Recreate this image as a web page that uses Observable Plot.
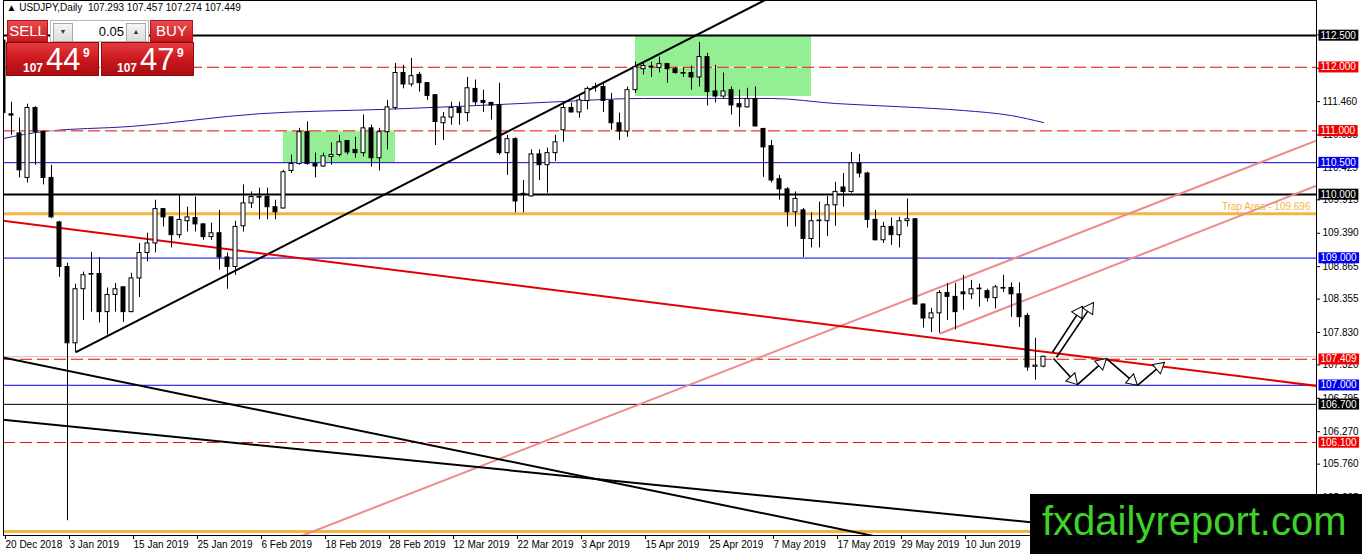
<!DOCTYPE html>
<html>
<head>
<meta charset="utf-8">
<script src="https://cdn.jsdelivr.net/npm/d3@7"></script>
<script src="https://cdn.jsdelivr.net/npm/@observablehq/plot@0.6"></script>
<style>
html,body{margin:0;padding:0;background:#fff;}
#wrap{position:relative;width:1362px;height:554px;overflow:hidden;font-family:"Liberation Sans",Arial,sans-serif;}
#chart svg{display:block;}
.ov{position:absolute;box-sizing:border-box;}
.hdr{background:linear-gradient(#ea4b4e,#cc1a20);color:#fff;font-size:15px;text-align:center;line-height:20px;border:1px solid #b0141a;}
.price{background:linear-gradient(#e63a3e,#c8161c 55%,#ad0d13);border:1px solid #8e0a0f;color:#fff;}
.price span{position:absolute;white-space:nowrap;}
.spin{background:#fff;border:1px solid #b8b8b8;}
.btn{position:absolute;background:linear-gradient(#f4f4f4,#dcdcdc);border:1px solid #a8a8a8;font-size:7px;color:#333;text-align:center;line-height:16px;}
</style>
</head>
<body>
<div id="wrap">
  <div id="chart"></div>
  <div class="ov hdr" style="left:7px;top:20px;width:41px;height:22px;">SELL</div>
  <div class="ov spin" style="left:50px;top:20px;width:99px;height:22px;">
    <div class="btn" style="left:2px;top:2px;width:18px;height:17px;">▼</div>
    <div style="position:absolute;right:24px;top:2px;font-size:13px;line-height:17px;color:#000;">0.05</div>
    <div class="btn" style="right:2px;top:2px;width:18px;height:17px;">▲</div>
  </div>
  <div class="ov hdr" style="left:150px;top:20px;width:43px;height:22px;">BUY</div>
  <div class="ov price" style="left:6px;top:42px;width:93px;height:34px;">
    <span style="left:16px;top:18px;font-size:12px;font-weight:bold;">107</span>
    <span style="left:39px;top:-1px;font-size:31px;">44</span>
    <span style="left:76px;top:3px;font-size:12px;font-weight:bold;">9</span>
  </div>
  <div class="ov price" style="left:101px;top:42px;width:93px;height:34px;">
    <span style="left:15px;top:18px;font-size:12px;font-weight:bold;">107</span>
    <span style="left:38px;top:-1px;font-size:31px;">47</span>
    <span style="left:75px;top:3px;font-size:12px;font-weight:bold;">9</span>
  </div>
  <div class="ov" style="left:1030px;top:494px;width:332px;height:60px;background:#000;">
    <span style="position:absolute;left:12px;top:7px;font-size:40px;line-height:40px;color:#3ed22a;white-space:nowrap;">fxdailyreport.com</span>
  </div>
</div>
<script>
// ---- candles (bar index 0 = 20 Dec 2018, daily bars) ----
const open = [112.42,111.26,110.96,110.26,111.36,110.98,110.26,109.56,108.86,107.66,108.51,108.74,108.75,108.15,108.42,108.54,108.15,108.68,109.08,109.23,109.77,109.64,109.36,109.58,109.63,109.53,109.33,109.39,109.01,108.86,109.50,109.86,109.95,109.96,109.80,109.78,110.37,110.48,110.98,110.48,110.44,110.59,110.62,110.84,110.70,110.65,111.04,110.57,110.98,111.36,111.91,111.73,111.88,111.75,111.56,111.12,111.21,111.36,111.28,111.66,111.47,111.44,111.40,110.65,110.87,110.01,109.97,110.63,110.46,110.65,111.01,111.36,111.29,111.47,111.68,111.69,111.47,111.12,110.99,111.64,111.97,112.00,111.99,112.05,111.97,111.91,111.91,111.84,112.16,111.62,111.54,111.64,111.42,111.37,111.50,111.03,110.76,110.24,110.08,109.72,109.75,109.30,109.58,109.58,109.83,110.11,110.04,110.49,110.33,109.60,109.28,109.49,109.36,109.58,109.61,108.27,108.05,108.13,108.45,108.39,108.46,108.43,108.51,108.48,108.37,108.52,108.53,108.43,108.09,107.29,107.293];
const high = [112.57,111.45,111.20,111.42,111.38,111.00,110.46,109.58,108.92,108.59,108.78,109.09,109.01,108.53,108.60,108.55,108.76,109.23,109.39,109.91,109.78,109.65,109.99,109.80,109.96,109.54,109.55,109.75,109.08,109.58,110.15,110.04,110.10,110.10,109.91,110.38,110.62,111.04,111.14,110.65,110.65,110.81,110.93,110.85,110.90,111.25,111.09,111.04,111.48,112.06,112.03,112.14,111.92,111.76,111.57,111.29,111.45,111.45,111.84,111.80,111.64,111.45,111.75,110.93,110.89,110.22,110.70,110.70,110.73,110.93,111.44,111.44,111.56,111.69,111.75,111.75,111.59,111.28,111.69,112.08,112.08,112.08,112.16,112.06,112.00,111.99,112.02,112.39,112.22,112.03,111.91,111.69,111.64,111.67,111.69,111.04,110.85,110.30,110.11,110.04,109.78,109.71,109.88,109.97,110.19,110.33,110.66,110.63,110.35,109.75,109.56,109.63,109.64,109.93,109.62,108.28,108.21,108.49,108.60,108.60,108.73,108.65,108.59,108.51,108.57,108.73,108.61,108.61,108.13,107.74,107.457];
const low = [111.12,110.93,110.26,110.18,110.46,110.15,109.62,108.70,104.87,107.52,108.02,108.15,107.98,107.79,108.15,107.99,108.14,108.38,108.94,109.08,109.49,109.16,109.31,109.41,109.41,109.28,109.28,108.81,108.51,108.73,109.41,109.78,109.60,109.60,109.60,109.77,110.33,110.46,110.46,110.26,110.43,110.46,110.59,110.62,110.57,110.59,110.43,110.37,110.70,111.33,111.66,111.69,111.61,111.48,110.77,110.85,111.09,111.09,111.14,111.40,111.29,111.17,110.62,110.30,109.71,109.71,109.96,110.22,110.02,110.52,110.82,111.28,111.20,111.33,111.61,111.29,111.01,110.85,110.90,111.59,111.88,111.84,111.91,111.75,111.89,111.84,111.64,111.69,111.39,111.44,111.51,111.25,111.06,111.36,111.06,110.27,110.18,109.91,109.49,109.49,109.01,109.16,109.16,109.34,109.50,109.80,110.02,110.26,109.47,109.27,109.23,109.20,109.16,109.49,108.26,107.90,107.83,107.82,108.02,107.87,108.18,108.35,108.23,108.31,108.20,108.46,108.07,107.91,107.22,107.08,107.274];
const close = [111.28,111.24,110.38,111.36,110.98,110.26,109.64,108.86,107.66,108.51,108.73,108.75,108.15,108.42,108.51,108.15,108.68,109.08,109.23,109.77,109.64,109.36,109.60,109.64,109.53,109.33,109.39,109.01,108.86,109.49,109.86,109.96,109.96,109.80,109.72,110.35,110.48,110.98,110.48,110.44,110.60,110.62,110.82,110.66,110.65,111.04,110.57,110.98,111.37,111.91,111.73,111.86,111.75,111.55,111.14,111.21,111.36,111.28,111.67,111.45,111.44,111.40,110.65,110.87,109.89,109.99,110.63,110.46,110.65,110.82,111.36,111.29,111.48,111.66,111.69,111.47,111.12,110.99,111.64,112.00,112.02,112.01,112.05,111.97,111.91,111.90,111.84,112.16,111.61,111.54,111.62,111.40,111.37,111.50,111.07,110.74,110.22,110.08,109.72,109.93,109.30,109.58,109.59,109.83,110.04,110.04,110.49,110.33,109.60,109.28,109.49,109.36,109.58,109.61,108.27,108.05,108.13,108.45,108.39,108.15,108.43,108.51,108.52,108.37,108.54,108.53,108.43,108.07,107.28,107.31,107.449];

// ---- moving average (read at sample bars) ----
const maBars = [0,5,16,32,48,56,68,80,96,104,112,120,126,130];
const maValues = [110.88,110.99,111.07,111.27,111.34,111.38,111.45,111.51,111.51,111.43,111.38,111.32,111.24,111.13];

// ---- axis ticks ----
const dateTicks = [0,8,16,24,32,40,48,56,64,72,80,88,96,104,112,120];
const dateLabels = ["20 Dec 2018","3 Jan 2019","15 Jan 2019","25 Jan 2019","6 Feb 2019","18 Feb 2019","28 Feb 2019","12 Mar 2019","22 Mar 2019","3 Apr 2019","15 Apr 2019","25 Apr 2019","7 May 2019","17 May 2019","29 May 2019","10 Jun 2019"];
const priceTicks = [112.510,111.985,111.460,110.935,110.425,109.915,109.390,108.865,108.355,107.830,107.320,106.795,106.270,105.760,105.235,104.710];

// ---- horizontal levels ----
const blackLevels = [112.5, 110.0];
const thinBlackLevels = [106.7];
const redLevels = [112.0, 111.0, 107.409, 106.1];
const blueLevels = [110.5, 109.0, 107.0];
const trapLevel = [109.696];
const lowerTrapLevel = [104.70];
const trapLabel = "Trap Area - 109.696";
const bidPrice = [107.449];
const headerText = "▲ USDJPY,Daily  107.293 107.457 107.274 107.449";

// ---- drawn objects (bar index, price) ----
const zones = [{i1:35,i2:49,p1:110.5,p2:111.0},{i1:79,i2:101,p1:111.54,p2:112.5}];
const blackTrends = [
  {i1:9,p1:107.516,i2:96,p2:113.11},
  {i1:-1,p1:107.46,i2:115,p2:104.47},
  {i1:-1,p1:106.47,i2:140,p2:104.70}
];
const redTrends = [{i1:-1,p1:109.60,i2:166,p2:106.96}];
const pinkTrends = [
  {i1:36,p1:104.57,i2:166,p2:110.94},
  {i1:117,p1:107.81,i2:166,p2:110.23}
];
const arrows = [
  {i1:131.125,p1:107.52,i2:134.875,p2:108.24},
  {i1:131.625,p1:107.44,i2:136.25,p2:108.30},
  {i1:131.25,p1:107.42,i2:134.25,p2:107.01},
  {i1:134.25,p1:107.01,i2:137.875,p2:107.42},
  {i1:137.875,p1:107.42,i2:141.75,p2:107.00},
  {i1:141.75,p1:107.00,i2:145.125,p2:107.36}
];

// ---- build ----
const W = 1362, H = 554, mL = 3, mR = 46, mT = 0, mB = 19;
const xDomain = [0, 164.125];
const yDomain = [104.638, 113.050];
const candles = open.map((o, i) => ({i, o, h: high[i], l: low[i], c: close[i]}));
const ma = maBars.map((b, k) => ({i: b, p: maValues[k]}));
const dateMap = new Map(dateTicks.map((t, k) => [t, dateLabels[k]]));

const sx = Plot.scale({x: {type: "linear", domain: xDomain, range: [mL, W - mR]}});
const sy = Plot.scale({y: {type: "linear", domain: yDomain, range: [H - mB, mT]}});
const heads = arrows.map(a => {
  const X1 = sx.apply(a.i1), Y1 = sy.apply(a.p1), X2 = sx.apply(a.i2), Y2 = sy.apply(a.p2);
  const L = Math.hypot(X2 - X1, Y2 - Y1), ux = (X2 - X1) / L, uy = (Y2 - Y1) / L;
  return {i: sx.invert(X2 - ux * 7), p: sy.invert(Y2 - uy * 7), rot: Math.atan2(ux, -uy) * 180 / Math.PI};
});

const kindColor = {black: "#000", thin: "#000", red: "#f20000", blue: "#0000f0"};
const labelled = [
  ...blackLevels.map(p => ({p, kind: "black"})),
  ...thinBlackLevels.map(p => ({p, kind: "thin"})),
  ...redLevels.map(p => ({p, kind: "red"})),
  ...blueLevels.map(p => ({p, kind: "blue"}))
];

const plot = Plot.plot({
  width: W, height: H,
  marginLeft: mL, marginRight: mR, marginTop: mT, marginBottom: mB,
  x: {type: "linear", domain: xDomain},
  y: {type: "linear", domain: yDomain},
  style: {fontFamily: "'Liberation Sans', Arial, sans-serif", fontSize: "10px", background: "#fff", color: "#000"},
  marks: [
    Plot.rect(zones, {x1: "i1", x2: "i2", y1: "p1", y2: "p2", fill: "#94ee94"}),
    Plot.line(ma, {x: "i", y: "p", stroke: "#1c1ca8", strokeWidth: 1, curve: "monotone-x"}),
    Plot.ruleY(bidPrice, {stroke: "#c4c4c4"}),
    Plot.ruleY(redLevels, {stroke: "#fff0c8", strokeWidth: 1}),
    Plot.ruleY(redLevels, {stroke: "#e41010", strokeDasharray: "12,5"}),
    Plot.ruleY(blueLevels, {stroke: "#0000e0"}),
    Plot.ruleY(blackLevels, {stroke: "#000", strokeWidth: 2}),
    Plot.ruleY(thinBlackLevels, {stroke: "#000", strokeWidth: 1}),
    Plot.ruleY(trapLevel, {stroke: "#f2b544", strokeWidth: 3}),
    Plot.ruleY(lowerTrapLevel, {stroke: "#f2b544", strokeWidth: 3}),
    Plot.link(pinkTrends, {x1: "i1", y1: "p1", x2: "i2", y2: "p2", stroke: "#ec8a8a", strokeWidth: 2, clip: true}),
    Plot.link(blackTrends, {x1: "i1", y1: "p1", x2: "i2", y2: "p2", stroke: "#000", strokeWidth: 2, clip: true}),
    Plot.link(redTrends, {x1: "i1", y1: "p1", x2: "i2", y2: "p2", stroke: "#e00000", strokeWidth: 2, clip: true}),
    Plot.ruleX(candles, {x: "i", y1: "l", y2: "h", stroke: "#000", clip: true}),
    Plot.rect(candles, {x1: d => d.i - 0.25, x2: d => d.i + 0.25, y1: "o", y2: "c", fill: d => d.c > d.o ? "#fff" : "#000", stroke: "#000", clip: true}),
    Plot.link(arrows, {x1: "i1", y1: "p1", x2: "i2", y2: "p2", stroke: "#000", strokeWidth: 1.6}),
    Plot.dot(heads, {x: "i", y: "p", symbol: "triangle", r: 4.5, rotate: "rot", fill: "#fff", stroke: "#000", strokeWidth: 1}),
    Plot.text(trapLevel, {y: d => d, text: () => trapLabel, frameAnchor: "right", textAnchor: "end", dx: -6, dy: -7, fill: "#f2b544"}),
    Plot.text([headerText], {text: d => d, frameAnchor: "top-left", dx: 3, dy: 3, fill: "#000"}),
    Plot.frame({stroke: "#000"}),
    Plot.axisX(dateTicks, {anchor: "bottom", label: null, tickSize: 4, tickPadding: 1, textAnchor: "start", dx: 2, tickFormat: d => dateMap.get(d)}),
    Plot.axisY(priceTicks, {anchor: "right", label: null, tickSize: 3, tickPadding: 3, tickFormat: d3.format(".3f")}),
    Plot.text(labelled, {y: "p", text: d => d3.format(".3f")(d.p), frameAnchor: "right", textAnchor: "start", dx: 4, fill: "#fff", className: "lvl"})
  ]
});

document.getElementById("chart").appendChild(plot);

// coloured boxes behind the level labels
const lvlTexts = plot.querySelectorAll("g.lvl text");
lvlTexts.forEach((t, k) => {
  const b = t.getBBox();
  const r = document.createElementNS("http://www.w3.org/2000/svg", "rect");
  r.setAttribute("x", b.x - 2);
  r.setAttribute("y", b.y);
  r.setAttribute("width", b.width + 4);
  r.setAttribute("height", b.height);
  const tr = t.getAttribute("transform");
  if (tr) r.setAttribute("transform", tr);
  r.setAttribute("fill", kindColor[labelled[k].kind]);
  t.parentNode.insertBefore(r, t);
});
</script>
</body>
</html>
